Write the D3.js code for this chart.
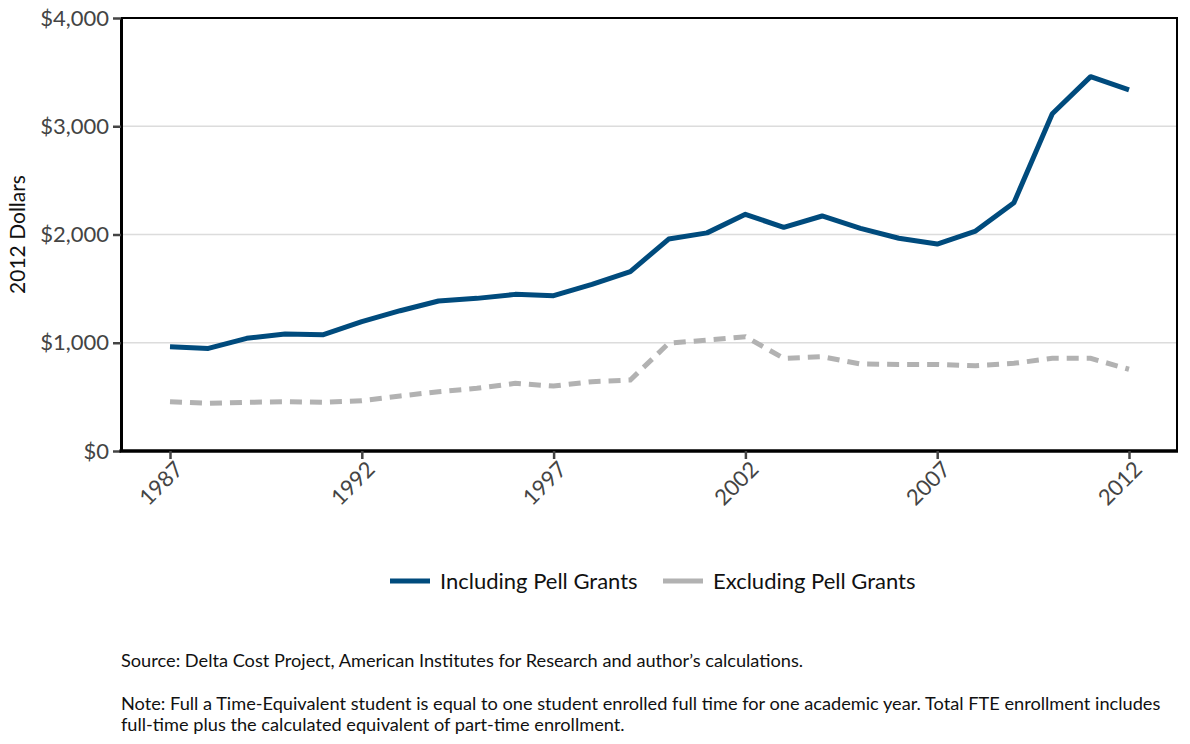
<!DOCTYPE html>
<html lang="en">
<head>
  <meta charset="utf-8">
  <title>Per-student spending</title>
  <script src="https://d3js.org/d3.v7.min.js"></script>
  <style>
    body { margin: 0; background: white; }
    svg { font-family: Lato, "Open Sans", sans-serif; }
    .tick text { fill: #444; font-size: 22px; font-family: Lato, "Open Sans", sans-serif; }
    .grid line { stroke: #dcdcdc; stroke-width: 1.5; }
    .note { font-size: 18.2px; fill: #111; }
  </style>
</head>
<body>
  <div id="chart"></div>
  <script>
    var years = d3.range(1987, 2013);
    var including = [963, 948, 1041, 1081, 1075, 1195, 1296, 1386, 1410, 1447, 1435, 1540, 1657,
      1958, 2015, 2186, 2066, 2171, 2057, 1965, 1912, 2032, 2294, 3116, 3458, 3335];
    var excluding = [455, 440, 450, 455, 450, 465, 508, 548, 579, 625, 600, 640, 656,
      995, 1025, 1056, 856, 871, 804, 800, 800, 788, 810, 856, 856, 755];
    var yTicks = [0, 1000, 2000, 3000, 4000];
    var xTicks = [1987, 1992, 1997, 2002, 2007, 2012];
    var seriesNames = ['Including Pell Grants', 'Excluding Pell Grants'];

    var w = 1190, h = 744;
    var pLeft = 121, pRight = 1177, pTop = 18, pBottom = 451;

    var x = d3.scaleLinear().domain([1987, 2012]).range([170, 1129]);
    var y = d3.scaleLinear().domain([0, 4000]).range([pBottom, pTop]);

    var svg = d3.select('#chart').append('svg')
      .attr('width', w)
      .attr('height', h);

    // gridlines
    svg.append('g').attr('class', 'grid')
      .selectAll('line')
      .data(yTicks.slice(1, 4))
      .enter().append('line')
      .attr('x1', pLeft).attr('x2', pRight)
      .attr('y1', function (d) { return y(d); })
      .attr('y2', function (d) { return y(d); });

    // frame top + right
    svg.append('path')
      .attr('d', 'M' + pLeft + ',' + pTop + 'H' + pRight + 'V' + pBottom)
      .attr('fill', 'none').attr('stroke', '#000').attr('stroke-width', 2);

    var yAxis = svg.append('g')
      .attr('transform', 'translate(' + pLeft + ',0)')
      .call(d3.axisLeft(y).tickValues(yTicks).tickSize(8).tickSizeOuter(0).tickPadding(4)
        .tickFormat(function (d) { return '$' + d3.format(',')(d); }));
    yAxis.select('.domain').attr('stroke', '#000').attr('stroke-width', 3);
    yAxis.selectAll('.tick line').attr('stroke', '#444').attr('stroke-width', 2.5);

    var xAxis = svg.append('g')
      .attr('transform', 'translate(0,' + pBottom + ')')
      .call(d3.axisBottom(x).tickValues(xTicks).tickSize(8).tickSizeOuter(0)
        .tickFormat(d3.format('d')));
    xAxis.select('.domain').attr('d', 'M' + (pLeft - 1.5) + ',0H' + (pRight + 1))
      .attr('stroke', '#000').attr('stroke-width', 3.5);
    xAxis.selectAll('.tick line').attr('stroke', '#444').attr('stroke-width', 2.5);
    xAxis.selectAll('.tick text')
      .attr('text-anchor', 'end')
      .attr('x', 0).attr('y', 0)
      .attr('dx', '0.2em')
      .attr('dy', '0.7em')
      .attr('transform', 'translate(0,12) rotate(-45)');

    svg.append('text')
      .attr('transform', 'translate(25,' + ((pTop + pBottom) / 2) + ') rotate(-90)')
      .attr('text-anchor', 'middle')
      .style('font-size', '21px')
      .attr('fill', '#111')
      .text('2012 Dollars');

    var line = function (vals) {
      return d3.line()
        .x(function (d, i) { return x(years[i]); })
        .y(function (d) { return y(d); })(vals);
    };

    svg.append('path')
      .attr('d', line(excluding))
      .attr('fill', 'none')
      .attr('stroke', '#b2b2b2')
      .attr('stroke-width', 5)
      .attr('stroke-dasharray', '12,8');

    svg.append('path')
      .attr('d', line(including))
      .attr('fill', 'none')
      .attr('stroke', '#004b7d')
      .attr('stroke-width', 5)
      .attr('stroke-linejoin', 'round');

    // legend
    var legend = svg.append('g').attr('transform', 'translate(390,581)');
    var lx = [0, 273];
    var colors = ['#004b7d', '#b2b2b2'];
    seriesNames.forEach(function (n, i) {
      legend.append('line')
        .attr('x1', lx[i]).attr('x2', lx[i] + 40)
        .attr('stroke', colors[i]).attr('stroke-width', 5);
      legend.append('text')
        .attr('x', lx[i] + 50).attr('dy', '0.35em')
        .style('font-size', '22px').attr('fill', '#111')
        .text(n);
    });

    svg.append('text').attr('class', 'note').attr('x', 121).attr('y', 667)
      .text('Source: Delta Cost Project, American Institutes for Research and author\u2019s calculations.');
    svg.append('text').attr('class', 'note').attr('x', 121).attr('y', 710)
      .text('Note: Full a Time-Equivalent student is equal to one student enrolled full time for one academic year. Total FTE enrollment includes');
    svg.append('text').attr('class', 'note').attr('x', 121).attr('y', 731)
      .text('full-time plus the calculated equivalent of part-time enrollment.');
  </script>
</body>
</html>
